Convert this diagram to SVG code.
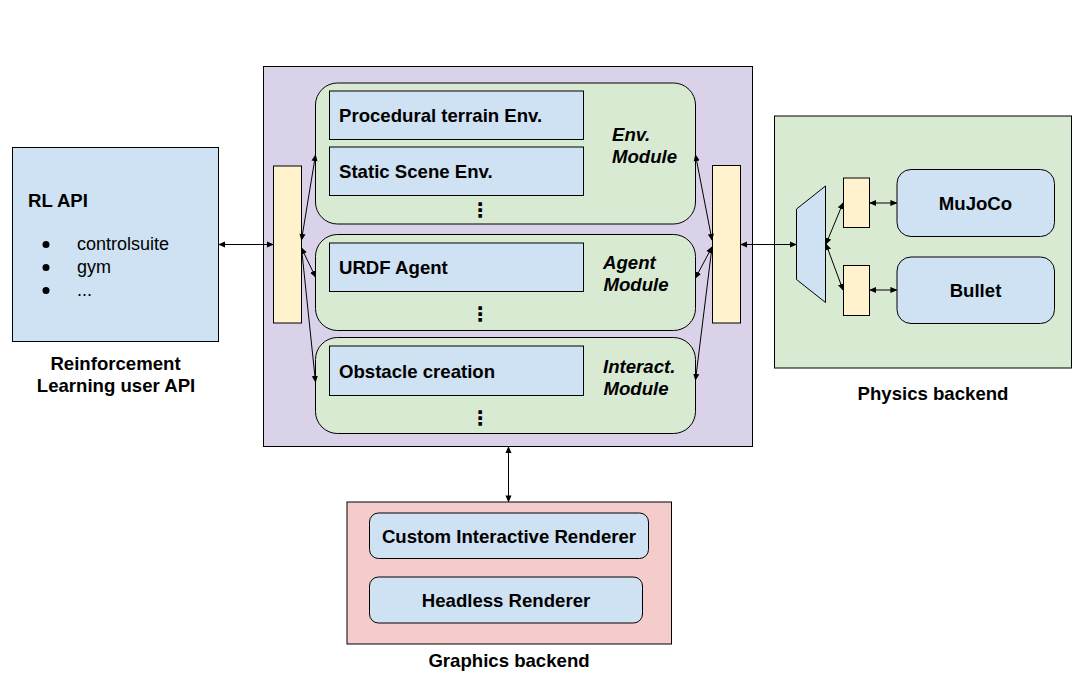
<svg xmlns="http://www.w3.org/2000/svg" width="1088" height="700" viewBox="0 0 1088 700">
<style>
.box{stroke:#000;stroke-width:1}
.pur{fill:#d9d2e9}.grn{fill:#d9ead3}.blu{fill:#cfe2f3}.yel{fill:#fff2cc}.pnk{fill:#f4cccc}
text{font-family:"Liberation Sans",Arial,sans-serif;fill:#000}
.b{font-size:18.6px;font-weight:bold}
.bi{font-size:18.6px;font-weight:bold;font-style:italic}
.r{font-size:18px}
.c{text-anchor:middle}
.dots{font-family:"DejaVu Sans",sans-serif;font-size:20px;font-weight:bold;text-anchor:middle}
.con{stroke:#000;stroke-width:1;fill:none}
</style>
<defs>
<marker id="a" viewBox="0 0 8 8" refX="7" refY="4" markerWidth="7" markerHeight="7" markerUnits="userSpaceOnUse" orient="auto-start-reverse">
<path d="M0,0.5 L8,4 L0,7.5 z" fill="#000"/>
</marker>
</defs>
<rect width="1088" height="700" fill="#fff"/>

<g id="rl-api">
<rect class="box blu" x="12.5" y="147.5" width="206" height="194"/>
<text class="b" x="28" y="207">RL API</text>
<circle cx="46" cy="244.5" r="3.5"/>
<circle cx="46" cy="267.5" r="3.5"/>
<circle cx="46" cy="290.5" r="3.5"/>
<text class="r" x="77" y="250">controlsuite</text>
<text class="r" x="77" y="273">gym</text>
<text class="r" x="77" y="296">...</text>
<text class="b c" x="115.5" y="370">Reinforcement</text>
<text class="b c" x="116" y="392">Learning user API</text>
</g>

<g id="core">
<rect class="box pur" x="263.5" y="66.5" width="489" height="380"/>
</g>

<g id="left-bar"><rect class="box yel" x="273.5" y="166" width="28" height="157"/></g>
<g id="right-bar"><rect class="box yel" x="712.5" y="165.5" width="28" height="157.5"/></g>

<g id="env-module">
<rect class="box grn" x="315.5" y="83" width="380" height="141" rx="22"/>
<rect class="box blu" x="329.5" y="91" width="254" height="48.5"/>
<text class="b" x="339" y="122">Procedural terrain Env.</text>
<rect class="box blu" x="329.5" y="147" width="254" height="48.5"/>
<text class="b" x="339" y="178">Static Scene Env.</text>
<text class="bi" x="612" y="141">Env.</text>
<text class="bi" x="612" y="163">Module</text>
<text class="dots" x="480" y="217">⋮</text>
</g>

<g id="agent-module">
<rect class="box grn" x="315.5" y="234.5" width="380" height="96" rx="22"/>
<rect class="box blu" x="329.5" y="243" width="254" height="48.5"/>
<text class="b" x="339" y="274">URDF Agent</text>
<text class="bi" x="603" y="269">Agent</text>
<text class="bi" x="603.5" y="291">Module</text>
<text class="dots" x="480" y="321">⋮</text>
</g>

<g id="interact-module">
<rect class="box grn" x="315.5" y="337.5" width="380" height="96" rx="22"/>
<rect class="box blu" x="329.5" y="346" width="254" height="49.5"/>
<text class="b" x="339" y="378">Obstacle creation</text>
<text class="bi" x="603" y="373">Interact.</text>
<text class="bi" x="603.5" y="395">Module</text>
<text class="dots" x="480" y="425">⋮</text>
</g>

<g id="physics-backend">
<rect class="box grn" x="774.5" y="116" width="297" height="252"/>
<polygon class="box blu" points="796.5,209 825.5,186 825.5,302.5 796.5,279.5"/>
<rect class="box yel" x="843.5" y="178" width="26" height="49.5"/>
<rect class="box yel" x="843.5" y="265.5" width="26" height="50"/>
<rect class="box blu" x="897" y="169.5" width="157.5" height="67" rx="14"/>
<text class="b c" x="975.5" y="210">MuJoCo</text>
<rect class="box blu" x="897" y="257" width="157.5" height="66.5" rx="14"/>
<text class="b c" x="975.5" y="297">Bullet</text>
<text class="b c" x="933" y="400">Physics backend</text>
</g>

<g id="graphics-backend">
<rect class="box pnk" x="347" y="502" width="324.5" height="142"/>
<rect class="box blu" x="369.5" y="513" width="279" height="45.5" rx="9"/>
<text class="b c" x="509" y="543">Custom Interactive Renderer</text>
<rect class="box blu" x="369.5" y="577" width="273" height="46" rx="9"/>
<text class="b c" x="506" y="607">Headless Renderer</text>
<text class="b c" x="509" y="667">Graphics backend</text>
</g>

<g id="connectors">
<line class="con" x1="219" y1="244.5" x2="273" y2="244.5" marker-start="url(#a)" marker-end="url(#a)"/>
<line class="con" x1="301.5" y1="240" x2="315.5" y2="155" marker-start="url(#a)" marker-end="url(#a)"/>
<line class="con" x1="301.5" y1="248" x2="315.5" y2="277" marker-start="url(#a)" marker-end="url(#a)"/>
<line class="con" x1="301.5" y1="248" x2="315.5" y2="382" marker-end="url(#a)"/>
<line class="con" x1="712" y1="240" x2="695.5" y2="155" marker-start="url(#a)" marker-end="url(#a)"/>
<line class="con" x1="712" y1="247" x2="695.5" y2="278" marker-start="url(#a)" marker-end="url(#a)"/>
<line class="con" x1="712" y1="247" x2="695.5" y2="380" marker-end="url(#a)"/>
<line class="con" x1="741" y1="244.5" x2="796" y2="244.5" marker-start="url(#a)" marker-end="url(#a)"/>
<line class="con" x1="826" y1="244" x2="843" y2="203" marker-start="url(#a)" marker-end="url(#a)"/>
<line class="con" x1="826" y1="244" x2="843" y2="290" marker-start="url(#a)" marker-end="url(#a)"/>
<line class="con" x1="870" y1="203" x2="896.5" y2="203" marker-start="url(#a)" marker-end="url(#a)"/>
<line class="con" x1="870" y1="290" x2="896.5" y2="290" marker-start="url(#a)" marker-end="url(#a)"/>
<line class="con" x1="508.5" y1="447" x2="508.5" y2="501.5" marker-start="url(#a)" marker-end="url(#a)"/>
</g>
</svg>
